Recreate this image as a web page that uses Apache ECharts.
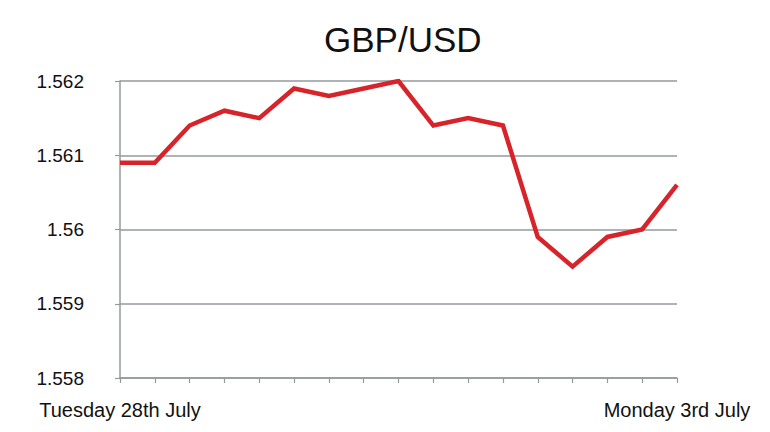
<!DOCTYPE html>
<html>
<head>
<meta charset="utf-8">
<script src="https://cdn.jsdelivr.net/npm/echarts@6/dist/echarts.min.js"></script>
<style>
  html, body { margin: 0; padding: 0; background: #fff; }
  #chart { width: 770px; height: 432px; }
</style>
</head>
<body>
<div id="chart"></div>
<script>
const chart = echarts.init(document.getElementById('chart'), null, { renderer: 'svg' });

// data
const periods = ['1', '2', '3', '4', '5', '6', '7', '8', '9', '10', '11', '12', '13', '14', '15', '16', '17'];
const rates = [1.5609, 1.5609, 1.5614, 1.5616, 1.5615, 1.5619, 1.5618, 1.5619, 1.5620,
               1.5614, 1.5615, 1.5614, 1.5599, 1.5595, 1.5599, 1.5600, 1.5606];
const endLabels = ['Tuesday 28th July', 'Monday 3rd July'];
const yTicks = [1.558, 1.559, 1.56, 1.561, 1.562];

const fontFamily = "'Liberation Sans', Arial, Helvetica, sans-serif";
const grey = '#949a9c';

chart.setOption({
    animation: false,
    title: {
        text: 'GBP/USD',
        left: 319,
        top: 17,
        textStyle: { fontFamily: fontFamily, fontSize: 35, fontWeight: 'normal', color: '#111' }
    },
    grid: { left: 120, right: 93, top: 81, bottom: 54 },
    xAxis: {
        type: 'category',
        data: periods,
        boundaryGap: false,
        axisLine: { lineStyle: { color: grey, width: 1.5 } },
        axisTick: { show: true, length: 5, lineStyle: { color: grey, width: 1.2 } },
        axisLabel: {
            interval: 0,
            margin: 22,
            fontFamily: fontFamily,
            fontSize: 20,
            color: '#111',
            formatter: function (v, i) {
                if (i === 0) return endLabels[0];
                if (i === periods.length - 1) return endLabels[1];
                return '';
            }
        }
    },
    yAxis: {
        type: 'value',
        min: yTicks[0],
        max: yTicks[yTicks.length - 1],
        interval: 0.001,
        axisLine: { show: true, lineStyle: { color: grey, width: 1.5 } },
        axisTick: { show: true, length: 5, lineStyle: { color: grey, width: 1.2 } },
        splitLine: { lineStyle: { color: grey, width: 1.5 } },
        axisLabel: {
            margin: 36,
            fontFamily: fontFamily,
            fontSize: 19,
            color: '#111',
            formatter: function (v) { return String(+v.toFixed(3)); }
        }
    },
    series: [{
        type: 'line',
        data: rates,
        showSymbol: false,
        lineStyle: { color: '#d7242b', width: 4.5, join: 'miter' }
    }]
});
</script>
</body>
</html>
